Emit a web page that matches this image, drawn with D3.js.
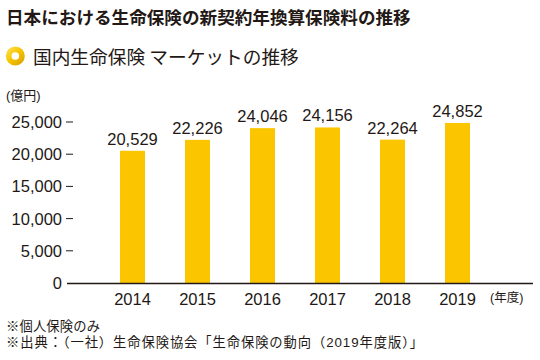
<!DOCTYPE html>
<html><head><meta charset="utf-8">
<script src="https://cdn.jsdelivr.net/npm/d3@7"></script>
<style>
html,body{margin:0;padding:0;background:#fff;}
svg{display:block;}
text{font-family:"Liberation Sans","Noto Sans CJK JP",sans-serif;fill:#231815;}
.jp{font-family:"Noto Sans CJK JP",sans-serif;}
</style></head>
<body>
<script>
const title = "日本における生命保険の新契約年換算保険料の推移";
const subtitle = "国内生命保険 マーケットの推移";
const years = ["2014","2015","2016","2017","2018","2019"];
const values = [20529,22226,24046,24156,22264,24852];
const yTicks = [0,5000,10000,15000,20000,25000];
const yUnit = "(億円)";
const xUnit = "(年度)";
const notes = ["※個人保険のみ","※出典：（一社）生命保険協会「生命保険の動向（2019年度版）」"];
const noteWidths = [94, 417];

const W=540,H=360;
const svg=d3.select("body").append("svg").attr("width",W).attr("height",H);
const defs=svg.append("defs");
const g=defs.append("linearGradient").attr("id","bul").attr("x1","0").attr("y1","0").attr("x2","1").attr("y2","1");
g.append("stop").attr("offset","0").attr("stop-color","#FFE45A");
g.append("stop").attr("offset","0.5").attr("stop-color","#F5C400");
g.append("stop").attr("offset","1").attr("stop-color","#D89A00");

svg.append("text").attr("class","jp").attr("x",6).attr("y",23.5)
  .attr("font-size",17.6).attr("font-weight","bold").text(title);

svg.append("circle").attr("cx",15.3).attr("cy",56).attr("r",9.5).attr("fill","url(#bul)");
svg.append("circle").attr("cx",15.3).attr("cy",56).attr("r",3.8).attr("fill","#fff");
svg.append("text").attr("class","jp").attr("x",33).attr("y",63.5)
  .attr("font-size",18.7).text(subtitle);

const x=d3.scaleBand().domain(years).range([100,490]).paddingInner(40/65).paddingOuter(20/65);
const y=d3.scaleLinear().domain([0,25000]).range([283,122]);

svg.append("text").attr("x",6).attr("y",100).attr("font-size",13).text(yUnit);

const fmt=d3.format(",");
const ya=svg.append("g");
yTicks.forEach(t=>{
  ya.append("text").attr("x",62).attr("y",y(t)+6).attr("text-anchor","end")
    .attr("font-size",16.5).text(fmt(t));
  if(t>0) ya.append("line").attr("x1",66).attr("x2",73).attr("y1",y(t)).attr("y2",y(t))
    .attr("stroke","#231815").attr("stroke-width",1);
});

svg.append("g").selectAll("rect").data(years).join("rect")
  .attr("x",d=>x(d)).attr("width",x.bandwidth())
  .attr("y",(d,i)=>y(values[i])).attr("height",(d,i)=>y(0)-y(values[i]))
  .attr("fill","#FBC600");

svg.append("g").selectAll("text").data(years).join("text")
  .attr("x",d=>x(d)+x.bandwidth()/2).attr("y",(d,i)=>y(values[i])-6)
  .attr("text-anchor","middle").attr("font-size",16.5).text((d,i)=>fmt(values[i]));

svg.append("line").attr("x1",67).attr("x2",533).attr("y1",y(0)+0.5).attr("y2",y(0)+0.5)
  .attr("stroke","#231815").attr("stroke-width",1.3);

svg.append("g").selectAll("text").data(years).join("text")
  .attr("x",d=>x(d)+x.bandwidth()/2).attr("y",305)
  .attr("text-anchor","middle").attr("font-size",16.5).text(d=>d);

svg.append("text").attr("x",490).attr("y",302).attr("font-size",12.5).text(xUnit);

notes.forEach((n,i)=>{
  svg.append("text").attr("x",6).attr("y",331+i*16).attr("font-size",13.3)
    .attr("textLength",noteWidths[i]).attr("lengthAdjust","spacing").text(n);
});
</script>
</body></html>
